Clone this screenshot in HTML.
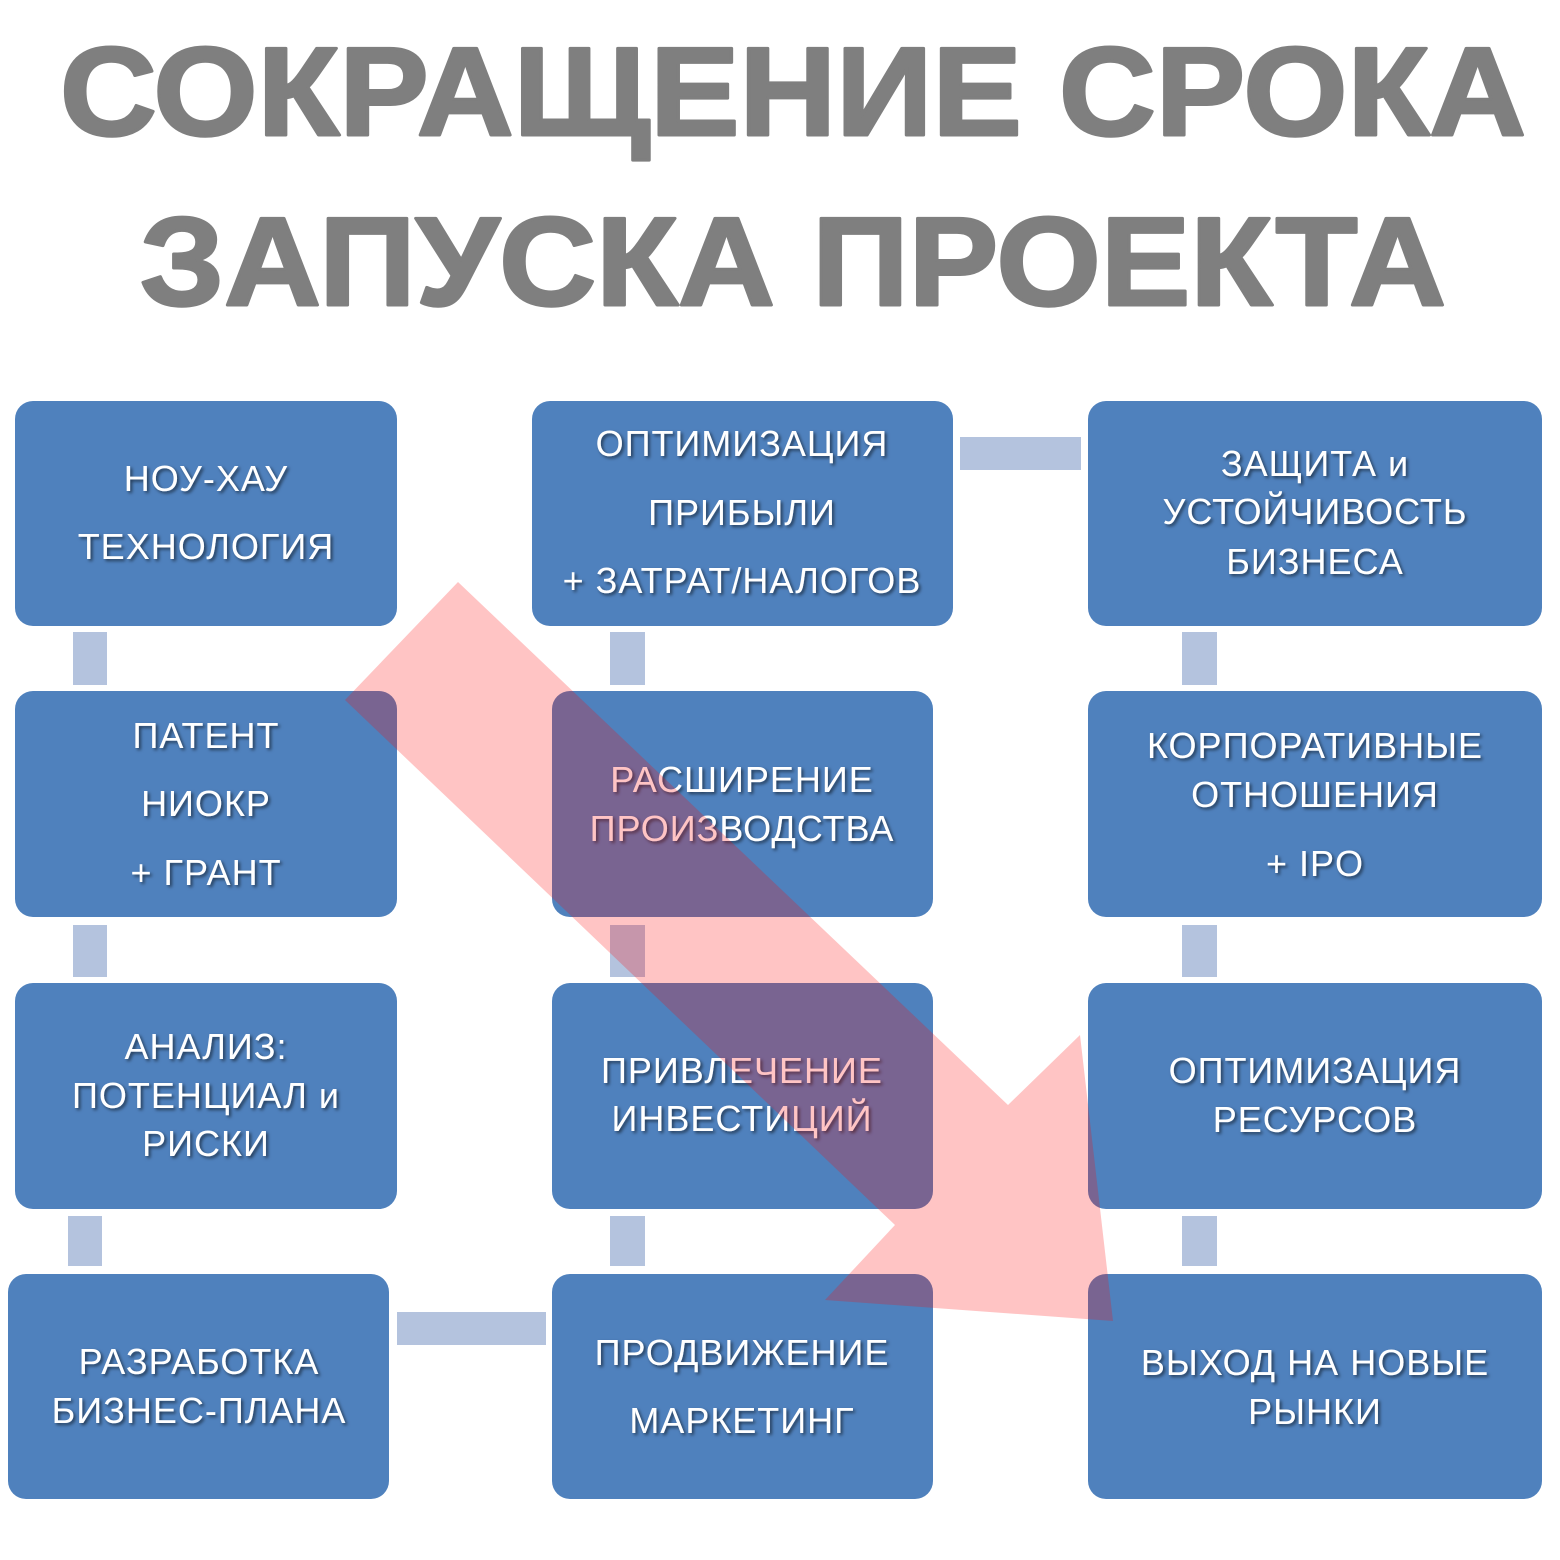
<!DOCTYPE html>
<html><head><meta charset="utf-8"><style>html,body{margin:0;padding:0;background:#fff}svg{display:block}</style></head>
<body>
<svg width="1560" height="1560" viewBox="0 0 1560 1560" xmlns="http://www.w3.org/2000/svg">
<defs>
<filter id="sh" x="-10%" y="-30%" width="120%" height="160%"><feDropShadow dx="2" dy="2" stdDeviation="1.5" flood-color="#000" flood-opacity="0.55"/></filter>
</defs>
<g font-family="Liberation Sans, sans-serif" font-weight="bold" fill="#7f7f7f" stroke="#7f7f7f" stroke-width="3" stroke-linejoin="round" font-size="126" text-anchor="middle">
<text x="793" y="135" textLength="1466" lengthAdjust="spacingAndGlyphs">СОКРАЩЕНИЕ СРОКА</text>
<text x="793" y="305" textLength="1306" lengthAdjust="spacingAndGlyphs">ЗАПУСКА ПРОЕКТА</text>
</g>
<g fill="#b4c3de">
<rect x="73" y="632" width="34" height="53"/>
<rect x="73" y="925" width="34" height="52"/>
<rect x="68" y="1216" width="34" height="50"/>
<rect x="610" y="632" width="35" height="53"/>
<rect x="610" y="925" width="35" height="52"/>
<rect x="610" y="1216" width="35" height="50"/>
<rect x="1182" y="632" width="35" height="53"/>
<rect x="1182" y="925" width="35" height="52"/>
<rect x="1182" y="1216" width="35" height="50"/>
<rect x="960" y="437" width="121" height="33"/>
<rect x="397" y="1312" width="149" height="33"/>
</g>
<g fill="#4f81bd">
<rect x="15" y="401" width="382" height="225" rx="18"/>
<rect x="15" y="691" width="382" height="226" rx="18"/>
<rect x="15" y="983" width="382" height="226" rx="18"/>
<rect x="8" y="1274" width="381" height="225" rx="18"/>
<rect x="532" y="401" width="421" height="225" rx="18"/>
<rect x="552" y="691" width="381" height="226" rx="18"/>
<rect x="552" y="983" width="381" height="226" rx="18"/>
<rect x="552" y="1274" width="381" height="225" rx="18"/>
<rect x="1088" y="401" width="454" height="225" rx="18"/>
<rect x="1088" y="691" width="454" height="226" rx="18"/>
<rect x="1088" y="983" width="454" height="226" rx="18"/>
<rect x="1088" y="1274" width="454" height="225" rx="18"/>
</g>
<g font-family="Liberation Sans, sans-serif" font-size="36" fill="#fff" text-anchor="middle" letter-spacing="1" filter="url(#sh)">
<text x="206" y="491">НОУ-ХАУ</text>
<text x="206" y="559">ТЕХНОЛОГИЯ</text>
<text x="206" y="748">ПАТЕНТ</text>
<text x="206" y="816">НИОКР</text>
<text x="206" y="885">+ ГРАНТ</text>
<text x="206" y="1059">АНАЛИЗ:</text>
<text x="206" y="1108">ПОТЕНЦИАЛ и</text>
<text x="206" y="1156">РИСКИ</text>
<text x="199" y="1374">РАЗРАБОТКА</text>
<text x="199" y="1423">БИЗНЕС-ПЛАНА</text>
<text x="742" y="456">ОПТИМИЗАЦИЯ</text>
<text x="742" y="525">ПРИБЫЛИ</text>
<text x="742" y="593">+ ЗАТРАТ/НАЛОГОВ</text>
<text x="742" y="792">РАСШИРЕНИЕ</text>
<text x="742" y="841">ПРОИЗВОДСТВА</text>
<text x="742" y="1083">ПРИВЛЕЧЕНИЕ</text>
<text x="742" y="1131">ИНВЕСТИЦИЙ</text>
<text x="742" y="1365">ПРОДВИЖЕНИЕ</text>
<text x="742" y="1433">МАРКЕТИНГ</text>
<text x="1315" y="476">ЗАЩИТА и</text>
<text x="1315" y="524">УСТОЙЧИВОСТЬ</text>
<text x="1315" y="574">БИЗНЕСА</text>
<text x="1315" y="758">КОРПОРАТИВНЫЕ</text>
<text x="1315" y="807">ОТНОШЕНИЯ</text>
<text x="1315" y="876">+ IPO</text>
<text x="1315" y="1083">ОПТИМИЗАЦИЯ</text>
<text x="1315" y="1132">РЕСУРСОВ</text>
<text x="1315" y="1375">ВЫХОД НА НОВЫЕ</text>
<text x="1315" y="1424">РЫНКИ</text>
</g>
<polygon points="458,582 1008,1105 1080,1035 1113,1321 825,1300 895,1225 345,700" fill="rgba(255,10,10,0.24)"/>
</svg>
</body></html>
